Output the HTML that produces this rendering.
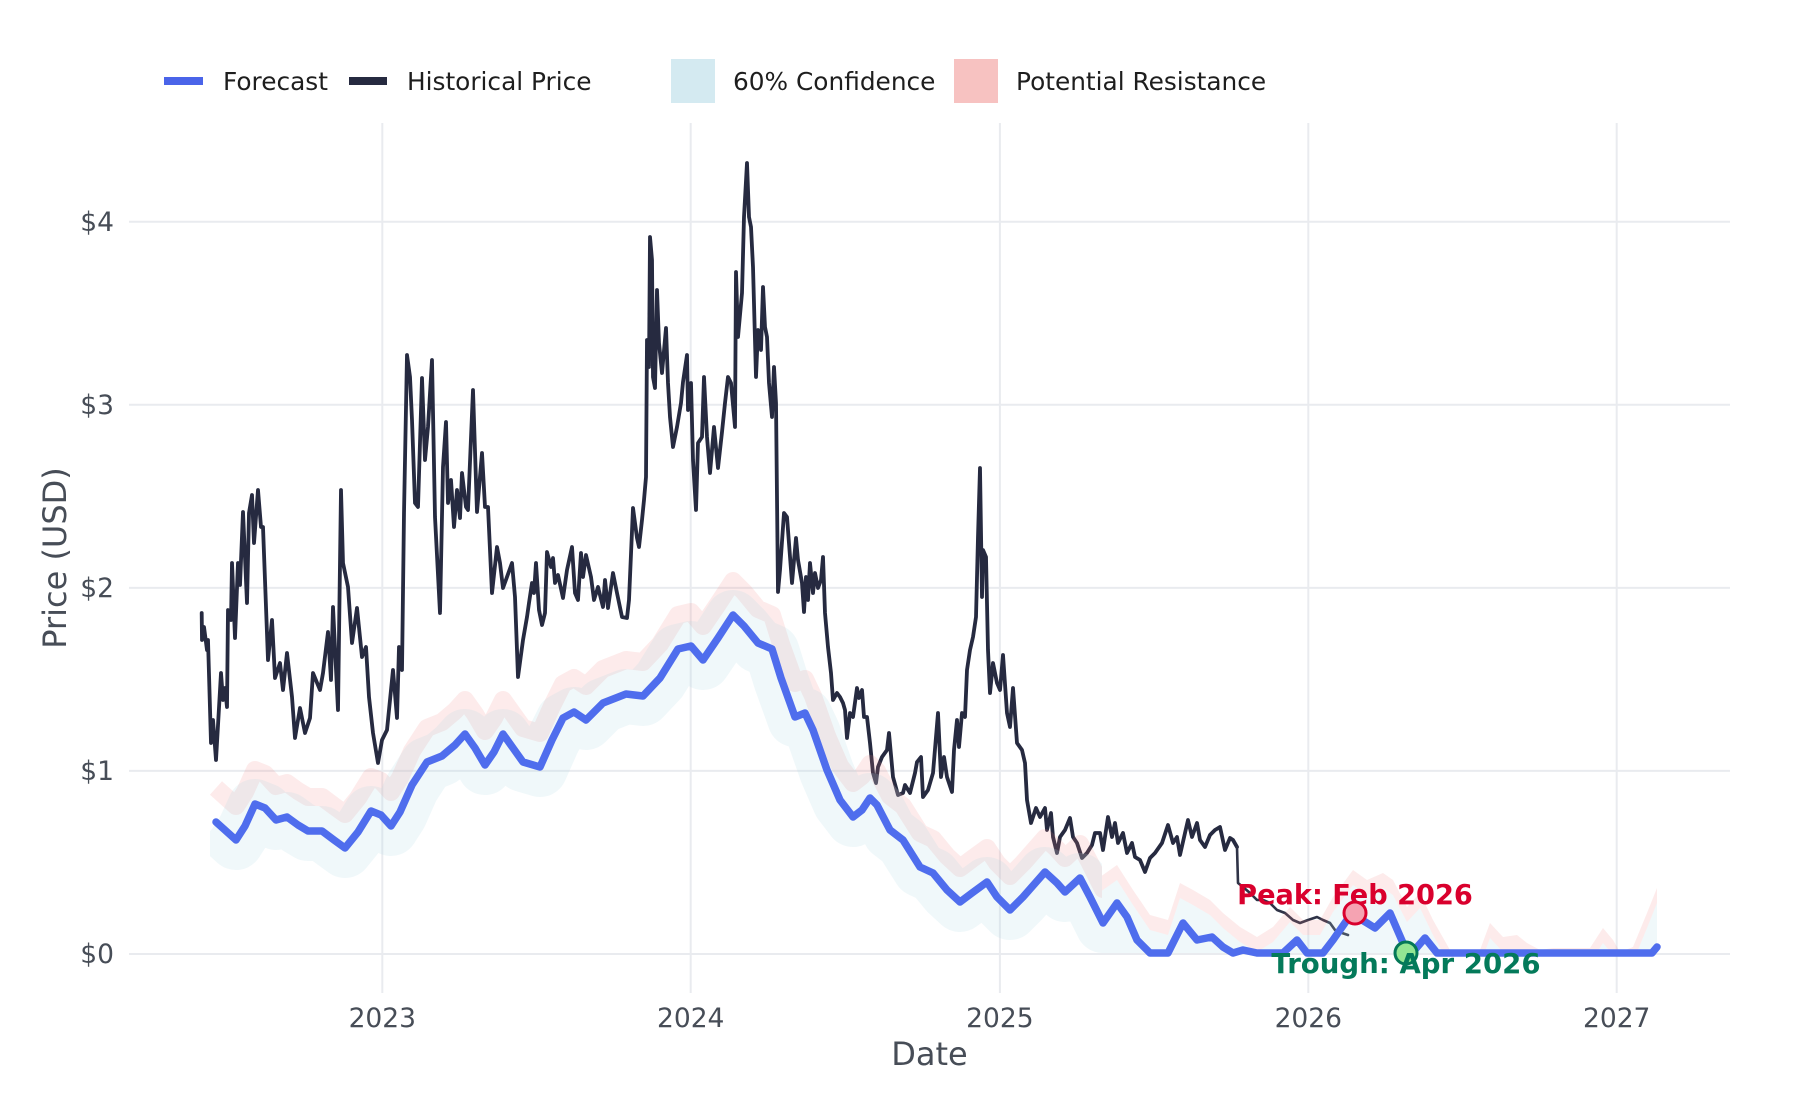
<!DOCTYPE html>
<html>
<head>
<meta charset="utf-8">
<style>
  html, body { margin: 0; padding: 0; background: #ffffff; }
  svg { display: block; }
  text { font-family: "DejaVu Sans", "Liberation Sans", sans-serif; }
</style>
</head>
<body>
<svg width="1800" height="1100" viewBox="0 0 1800 1100" xmlns="http://www.w3.org/2000/svg">
  <defs>
    <clipPath id="bandClip"><rect x="210" y="0" width="892" height="953"/></clipPath>
    <clipPath id="tailClip"><rect x="1102" y="0" width="600" height="953"/></clipPath>
  </defs>
  <rect x="0" y="0" width="1800" height="1100" fill="#ffffff"/>

  <!-- gridlines -->
  <g stroke="#e9ebef" stroke-width="2" fill="none">
    <line x1="382.3" y1="123" x2="382.3" y2="993"/>
    <line x1="690.7" y1="123" x2="690.7" y2="993"/>
    <line x1="999.9" y1="123" x2="999.9" y2="993"/>
    <line x1="1308.3" y1="123" x2="1308.3" y2="993"/>
    <line x1="1616.7" y1="123" x2="1616.7" y2="993"/>
    <line x1="129" y1="221.7" x2="1730" y2="221.7"/>
    <line x1="129" y1="404.8" x2="1730" y2="404.8"/>
    <line x1="129" y1="587.9" x2="1730" y2="587.9"/>
    <line x1="129" y1="770.9" x2="1730" y2="770.9"/>
    <line x1="129" y1="954" x2="1730" y2="954"/>
  </g>

  <!-- y tick labels -->
  <g font-size="26.5" fill="#474d57" text-anchor="end">
    <text x="114" y="231">$4</text>
    <text x="114" y="414">$3</text>
    <text x="114" y="597">$2</text>
    <text x="114" y="780">$1</text>
    <text x="114" y="963">$0</text>
  </g>
  <!-- x tick labels -->
  <g font-size="26.5" fill="#474d57" text-anchor="middle">
    <text x="382.3" y="1027">2023</text>
    <text x="690.7" y="1027">2024</text>
    <text x="999.9" y="1027">2025</text>
    <text x="1308.3" y="1027">2026</text>
    <text x="1616.7" y="1027">2027</text>
  </g>
  <text x="929.5" y="1065" font-size="32" fill="#474d57" text-anchor="middle">Date</text>
  <text transform="translate(66,558) rotate(-90)" font-size="32" fill="#474d57" text-anchor="middle">Price (USD)</text>

  <!-- legend -->
  <line x1="164" y1="81" x2="203" y2="81" stroke="#4a64e9" stroke-width="8"/>
  <text x="223" y="90" font-size="24.8" fill="#1e1e1e">Forecast</text>
  <line x1="349" y1="81" x2="387" y2="81" stroke="#262a40" stroke-width="8"/>
  <text x="407" y="90" font-size="24.8" fill="#1e1e1e">Historical Price</text>
  <rect x="671" y="59" width="44" height="44" fill="#d4eaf1"/>
  <text x="733" y="90" font-size="24.8" fill="#1e1e1e">60% Confidence</text>
  <rect x="954" y="59" width="44" height="44" fill="#f7c2c1"/>
  <text x="1016" y="90" font-size="24.8" fill="#1e1e1e">Potential Resistance</text>

  <!-- historical price -->
  <polyline fill="none" stroke="#262a40" stroke-width="3.8" stroke-linejoin="round" stroke-linecap="round"
    points="201.7,613 202,640 204,627 207,650 208,640 211,743 213,720 216,760 221,673 223,700 225,688 227,707 228,610 231,620 232,563 235,638 238,563 240,585 243,512 247,603 249,513 252,495 254,543 258,490 261,527 263,527 268,660 272,620 275,678 280,663 283,690 287,653 292,697 295,738 300,708 305,733 310,718 313,673 320,690 323,673 328,632 331,680 333,607 338,710 341,490 343,563 348,587 352,643 357,608 362,657 366,647 369,697 373,733 378,763 382,740 387,730 390,700 393,670 397,718 399,647 402,670 404,513 407,355 410,377 412,420 415,503 418,507 422,378 425,460 428,427 432,360 435,517 440,613 443,467 446,422 448,503 451,480 454,527 457,490 460,518 462,473 466,507 468,510 473,390 477,512 482,453 485,507 488,507 492,593 497,547 500,563 503,588 512,563 515,597 518,677 523,640 527,617 529,603 532,583 534,593 536,563 539,610 542,625 545,613 547,552 551,567 553,558 555,583 558,575 563,598 567,570 572,547 575,593 578,600 581,553 583,577 586,555 591,577 594,600 598,587 603,607 605,580 608,608 613,573 617,593 622,617 627,618 629,600 633,508 637,538 639,547 642,520 644,500 646,477 647,340 649,367 650,237 652,260 653,377 655,388 657,290 659,343 662,373 666,328 668,383 670,417 673,447 677,427 681,403 683,382 687,355 688,410 691,383 693,460 696,510 698,443 702,437 704,377 707,437 710,473 714,427 718,468 722,432 725,403 728,377 731,383 735,427 736,272 738,337 742,293 744,217 747,163 749,217 751,227 753,267 756,377 758,330 761,350 763,287 765,327 767,337 769,383 772,417 774,367 776,403 778,592 780,570 784,513 787,517 792,583 796,538 798,560 802,583 804,612 806,577 808,600 810,563 813,593 815,573 818,588 821,580 823,557 825,613 828,647 831,673 833,700 837,693 840,697 843,703 845,710 847,738 850,713 853,717 857,688 859,698 862,690 864,717 867,717 870,743 873,773 876,783 878,767 882,757 887,750 889,733 893,777 898,795 903,793 905,785 910,793 915,773 917,762 921,757 923,797 928,790 933,773 938,713 941,777 944,757 947,777 952,792 954,750 957,720 959,747 962,713 965,717 967,670 970,650 973,637 976,617 978,537 980,468 982,597 983,550 986,557 988,650 990,693 993,663 997,683 1000,690 1003,655 1007,713 1010,727 1013,688 1017,743 1022,750 1025,763 1027,800 1031,823 1036,808 1040,817 1045,808 1047,830 1051,813 1053,837 1057,853 1060,837 1065,830 1070,818 1073,837 1077,843 1082,858 1087,853 1092,845 1095,833 1100,833 1103,850 1108,817 1112,837 1115,823 1118,843 1123,833 1127,853 1132,843 1135,857 1140,860 1145,872 1150,858 1155,853 1162,843 1168,825 1173,843 1177,837 1180,855 1185,833 1188,820 1192,837 1197,823 1200,840 1205,847 1210,835 1215,830 1220,827 1225,850 1230,838 1233,840 1237,847"/>
  <polyline fill="none" stroke="#2f3347" stroke-width="2.6" stroke-linejoin="round" stroke-linecap="round"
    points="1237,847 1238,883 1243,887 1250,893 1257,900 1263,900 1270,903 1277,910 1285,913 1293,920 1300,923 1308,920 1317,917 1323,920 1330,923 1335,930 1342,933 1348,935"/>

  <!-- bands (main part) -->
  <g clip-path="url(#bandClip)">
    <polyline transform="translate(0,-34)" fill="none" stroke="rgb(240,128,128)" stroke-opacity="0.16" stroke-width="18" stroke-linejoin="round" stroke-linecap="butt"
      points="216,822 226,831 236,840 245,826 255,804 265,808 276,820 287,817 298,825 308,831 322,831 334,840 345,848 358,832 371,811 381,815 391,826 400,812 412,785 427,762 442,756 455,745 465,734 475,748 485,765 494,752 503,734 513,748 523,762 540,767 552,740 563,718 574,712 586,720 603,703 626,694 643,696 660,678 678,649 691,646 703,660 718,638 733,615 744,626 758,643 772,649 781,678 790,703 795,717 805,713 813,730 827,770 840,800 853,817 862,810 870,798 877,805 890,830 903,840 920,867 933,873 947,890 960,902 972,893 987,882 997,897 1010,910 1023,897 1045,872 1057,883 1065,892 1080,878 1090,897 1103,923 1117,903"/>
    <polyline transform="translate(0,2.5)" fill="none" stroke="rgb(173,216,230)" stroke-opacity="0.19" stroke-width="55" stroke-linejoin="round" stroke-linecap="butt"
      points="216,822 226,831 236,840 245,826 255,804 265,808 276,820 287,817 298,825 308,831 322,831 334,840 345,848 358,832 371,811 381,815 391,826 400,812 412,785 427,762 442,756 455,745 465,734 475,748 485,765 494,752 503,734 513,748 523,762 540,767 552,740 563,718 574,712 586,720 603,703 626,694 643,696 660,678 678,649 691,646 703,660 718,638 733,615 744,626 758,643 772,649 781,678 790,703 795,717 805,713 813,730 827,770 840,800 853,817 862,810 870,798 877,805 890,830 903,840 920,867 933,873 947,890 960,902 972,893 987,882 997,897 1010,910 1023,897 1045,872 1057,883 1065,892 1080,878 1090,897 1103,923 1117,903"/>
  </g>
  <!-- bands (tail) -->
  <g clip-path="url(#tailClip)">
    <polygon fill="rgb(240,128,128)" fill-opacity="0.16"
      points="1100,877 1117,865 1133,890 1150,915 1168,920 1180,883 1193,890 1210,900 1223,913 1240,927 1257,937 1273,927 1290,907 1303,920 1320,920 1333,897 1353,870 1367,880 1383,873 1393,880 1407,907 1420,893 1433,920 1450,950 1480,950 1490,923 1503,937 1517,935 1527,943 1540,950 1553,948 1590,948 1603,928 1613,940 1620,952 1633,947 1647,913 1657,888 1657,903 1647,928 1633,962 1620,967 1613,955 1603,943 1590,963 1553,963 1540,965 1527,958 1517,950 1503,952 1490,938 1480,965 1450,965 1433,935 1420,908 1407,922 1393,895 1383,888 1367,895 1353,885 1333,912 1320,935 1303,935 1290,922 1273,942 1257,952 1240,942 1223,928 1210,915 1193,905 1180,898 1168,935 1150,930 1133,905 1117,880 1100,892"/>
    <polygon fill="rgb(173,216,230)" fill-opacity="0.19"
      points="1100,892 1117,880 1133,905 1150,930 1168,935 1180,898 1193,905 1210,915 1223,928 1240,942 1257,952 1273,942 1290,922 1303,935 1320,935 1333,912 1353,885 1367,895 1383,888 1393,895 1407,922 1420,908 1433,935 1450,965 1480,965 1490,938 1503,952 1517,950 1527,958 1540,965 1553,963 1590,963 1603,943 1613,955 1620,967 1633,962 1647,928 1657,903 1657,953 1100,953"/>
  </g>

  <!-- forecast -->
  <polyline fill="none" stroke="#4f6ded" stroke-width="7.5" stroke-linejoin="round" stroke-linecap="round"
    points="216,822 226,831 236,840 245,826 255,804 265,808 276,820 287,817 298,825 308,831 322,831 334,840 345,848 358,832 371,811 381,815 391,826 400,812 412,785 427,762 442,756 455,745 465,734 475,748 485,765 494,752 503,734 513,748 523,762 540,767 552,740 563,718 574,712 586,720 603,703 626,694 643,696 660,678 678,649 691,646 703,660 718,638 733,615 744,626 758,643 772,649 781,678 790,703 795,717 805,713 813,730 827,770 840,800 853,817 862,810 870,798 877,805 890,830 903,840 920,867 933,873 947,890 960,902 972,893 987,882 997,897 1010,910 1023,897 1045,872 1057,883 1065,892 1080,878 1090,897 1103,923 1117,903 1127,917 1137,940 1150,953 1168,953 1183,923 1197,940 1212,937 1223,947 1233,953 1243,950 1257,953 1283,953 1297,940 1307,953 1323,953 1333,940 1347,920 1357,917 1367,923 1375,928 1390,913 1403,943 1412,953 1425,938 1437,953 1652,953 1657,947"/>

  <!-- annotations -->
  <text x="1355" y="904" font-size="27.2" font-weight="bold" fill="#d9002d" text-anchor="middle">Peak: Feb 2026</text>
  <circle cx="1355" cy="913" r="11" fill="#f5a3b2" stroke="#d9002d" stroke-width="3"/>
  <circle cx="1406" cy="953" r="11" fill="#93e693" stroke="#047857" stroke-width="3"/>
  <text x="1406" y="973" font-size="27.6" font-weight="bold" fill="#047a5a" text-anchor="middle">Trough: Apr 2026</text>
</svg>
</body>
</html>
